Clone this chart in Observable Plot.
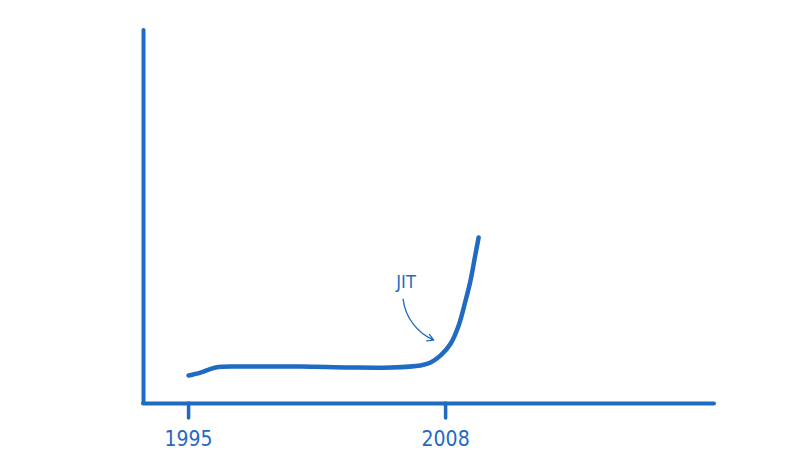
<!DOCTYPE html>
<html><head><meta charset="utf-8">
<script src="https://cdn.jsdelivr.net/npm/d3@7"></script>
<script src="https://cdn.jsdelivr.net/npm/@observablehq/plot@0.6"></script>
<style>
html,body{margin:0;padding:0;background:#fff;}
</style>
</head><body>
<div id="chart"></div>
<script>
const years = [1995.0, 1995.6, 1996.37, 1997.63, 2000.67, 2003.19, 2005.22, 2006.73, 2007.24, 2007.75, 2008.26, 2008.66, 2009.01, 2009.26, 2009.47, 2009.67];
const values = [7.5, 8.3, 9.65, 9.9, 9.9, 9.65, 9.65, 10.2, 11.0, 12.9, 16.1, 20.9, 27.6, 33.0, 38.9, 44.5];
const tickYears = [1995, 2008];
const tickLabels = ["1995", "2008"];
const annotation = {text: "JIT", x: 2006.0, y: 32.5, ax1: 2005.85, ay1: 28.0, ax2: 2007.4, ay2: 17.0};

const data = years.map((x, i) => ({x, y: values[i]}));
const blue = "#1f6bc2";
const font = "'Liberation Sans Narrow', 'DejaVu Sans Condensed', sans-serif";
const xMin = 1992.72, xMax = 2021.6;

const chart = Plot.plot({
  width: 800, height: 467,
  marginLeft: 143, marginRight: 86, marginTop: 30, marginBottom: 64,
  x: {type: "linear", domain: [xMin, xMax], axis: null},
  y: {type: "linear", domain: [0, 100], axis: null},
  style: {fontFamily: font, background: "#fff"},
  marks: [
    Plot.ruleX([xMin], {y1: 0, y2: 100, stroke: blue, strokeWidth: 4, strokeLinecap: "round"}),
    Plot.ruleY([0], {x1: xMin, x2: xMax, stroke: blue, strokeWidth: 4, strokeLinecap: "round"}),
    Plot.ruleX(tickYears, {x: d => d, y1: 0, y2: -4, stroke: blue, strokeWidth: 3.5, strokeLinecap: "round"}),
    Plot.text(tickYears, {x: d => d, y: -9.5, text: (d, i) => tickLabels[i], fill: blue, fontSize: 21, fontFamily: font}),
    Plot.line(data, {x: "x", y: "y", stroke: blue, strokeWidth: 4.5, curve: "catmull-rom", strokeLinecap: "round"}),
    Plot.text([annotation], {x: "x", y: "y", text: "text", fill: blue, fontSize: 18, fontFamily: font}),
    Plot.arrow([annotation], {x1: "ax1", y1: "ay1", x2: "ax2", y2: "ay2", stroke: blue, strokeWidth: 1.3, bend: -30, headLength: 8})
  ]
});
document.getElementById("chart").appendChild(chart);
</script>
</body></html>
